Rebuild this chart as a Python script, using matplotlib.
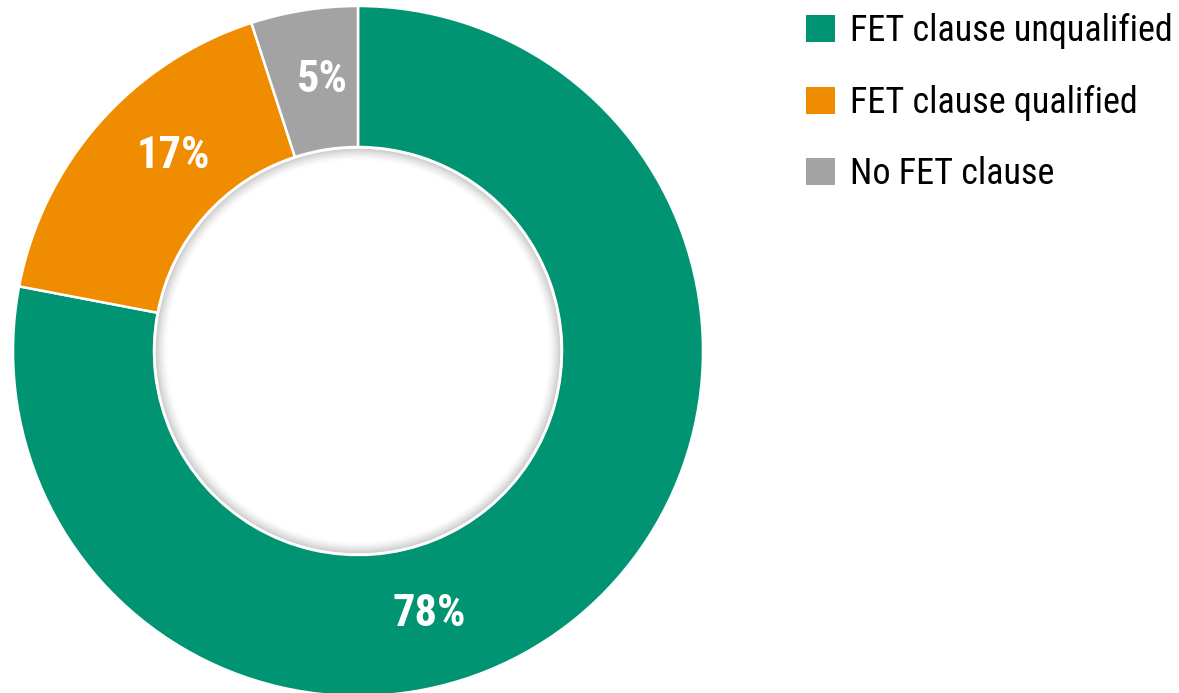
import matplotlib
matplotlib.use("Agg")
import matplotlib.pyplot as plt
from matplotlib.patches import Circle

labels = ["FET clause unqualified", "FET clause qualified", "No FET clause"]
shares = [78, 17, 5]
colors = ["#009473", "#F08C00", "#A3A3A3"]
pct_text = ["78%", "17%", "5%"]
pct_pos = [(429, 79), (173, 537), (322, 613)]

font = ["Roboto Condensed", "DejaVu Sans"]

fig = plt.figure(figsize=(11.79, 6.93), dpi=100)
ax = fig.add_axes([0, 0, 1, 1])

cx, cy = 358, 342
r_out, r_in = 345, 204

wedges, _ = ax.pie(shares, colors=colors, startangle=90, counterclock=False,
                   radius=r_out, center=(cx, cy),
                   wedgeprops=dict(width=r_out - r_in, edgecolor="white", linewidth=1.8))

# soft shadow inside the hole
ax.add_patch(Circle((cx, cy), r_in - 1, facecolor="white", edgecolor="none", zorder=3))
for k in range(12):
    ax.add_patch(Circle((cx, cy), r_in - 2 - k, fill=False, edgecolor="#808080",
                        linewidth=1.0, alpha=0.30 * (1 - k / 12) ** 1.6, zorder=4))
ax.add_patch(Circle((cx, cy), r_in - 0.5, fill=False, edgecolor="white", linewidth=1.6, zorder=5))

for t, (x, y) in zip(pct_text, pct_pos):
    ax.text(x, y, t, color="white", fontsize=32, fontweight="bold", family=font,
            ha="center", va="center", zorder=6)

ax.set_xlim(0, 1179)
ax.set_ylim(0, 693)
ax.set_aspect("auto")
ax.axis("off")

leg = ax.legend(wedges, labels, loc="upper left", bbox_to_anchor=(792 / 1179, 1 + 1 / 693),
                borderaxespad=0, frameon=False, prop={"family": font, "size": 26},
                handlelength=0.78, handleheight=0.78, handletextpad=0.44, labelspacing=0.98)
for h in leg.legend_handles:
    h.set_edgecolor("none")

fig.savefig("out.png", dpi=100, facecolor="white")
